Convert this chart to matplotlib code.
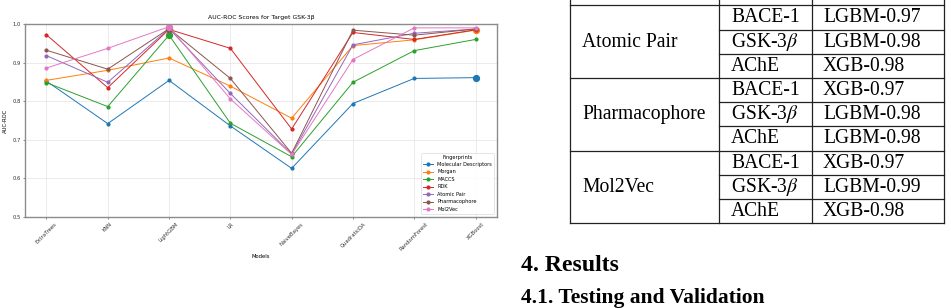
import matplotlib
matplotlib.use("Agg")
import matplotlib.pyplot as plt

plt.rcParams['mathtext.fontset'] = 'stix'

# chart data
models = ['ExtraTrees', 'KNN', 'LightGBM', 'LR', 'NaiveBayes', 'QuadraticDA', 'RandomForest', 'XGBoost']
fingerprints = ['Molecular Descriptors', 'Morgan', 'MACCS', 'RDK', 'Atomic Pair', 'Pharmacophore', 'Mol2Vec']
mol_desc = [0.852, 0.742, 0.854, 0.736, 0.626, 0.794, 0.859, 0.861]
morgan = [0.854, 0.880, 0.912, 0.839, 0.756, 0.944, 0.959, 0.984]
maccs = [0.848, 0.786, 0.971, 0.743, 0.656, 0.849, 0.931, 0.960]
rdk = [0.972, 0.835, 0.986, 0.937, 0.728, 0.978, 0.960, 0.985]
atomic_pair = [0.918, 0.849, 0.988, 0.820, 0.663, 0.946, 0.976, 0.987]
pharmacophore = [0.932, 0.883, 0.988, 0.859, 0.665, 0.984, 0.971, 0.987]
mol2vec = [0.886, 0.937, 0.993, 0.806, 0.662, 0.908, 0.990, 0.990]
series = [mol_desc, morgan, maccs, rdk, atomic_pair, pharmacophore, mol2vec]

# table data on the right
groups = ['Atomic Pair', 'Pharmacophore', 'Mol2Vec']
targets = ['BACE-1', r'GSK-3$\beta$', 'AChE']
best = [['LGBM-0.97', 'LGBM-0.98', 'XGB-0.98'],
        ['XGB-0.97', 'LGBM-0.98', 'LGBM-0.98'],
        ['XGB-0.97', 'LGBM-0.99', 'XGB-0.98']]

W, H = 951, 308
fig = plt.figure(figsize=(W / 100, H / 100), dpi=100)

# page overlay in pixel coords
page = fig.add_axes([0, 0, 1, 1])
page.set_xlim(0, W)
page.set_ylim(H, 0)
page.axis('off')
page.patch.set_alpha(0)

# ---- chart ----
ax = fig.add_axes([25 / W, 1 - 217 / H, 472 / W, 193 / H])
x = list(range(len(models)))
for name, vals in zip(fingerprints, series):
    line, = ax.plot(x, vals, marker='o', markersize=2, lw=0.7, label=name)
    i = vals.index(max(vals))
    ax.plot(x[i], vals[i], marker='o', markersize=4.2, color=line.get_color())

ax.set_ylim(0.5, 1.0)
ax.set_yticks([0.5, 0.6, 0.7, 0.8, 0.9, 1.0])
ax.set_xticks(x)
ax.set_xticklabels(models, rotation=45)
ax.tick_params(labelsize=3.8, length=1.5, width=0.4, pad=1.5, colors='#333333')
ax.grid(True, color='#e3e3e3', lw=0.5)
for s in ax.spines.values():
    s.set_color('#8c8c8c')
    s.set_linewidth(1.0)
ax.set_title('AUC-ROC Scores for Target GSK-3β', fontsize=4.4, pad=3.5)
ax.set_xlabel('Models', fontsize=3.8, labelpad=2)
ax.set_ylabel('AUC-ROC', fontsize=3.8, labelpad=3)
leg = ax.legend(title='Fingerprints', fontsize=3.6, title_fontsize=3.6, loc='lower right',
                borderaxespad=0.6, framealpha=0.9)
leg.get_frame().set_linewidth(0.4)

# ---- table ----
xs = [570, 719, 812, 944]
top = 5.3
rh = 24.2
nrows = 3 * len(groups)
bottom = top + nrows * rh
lk = dict(color='#222222', lw=0.9)
for xv in xs:
    page.plot([xv, xv], [0, bottom], **lk)
page.plot([xs[0], xs[-1]], [top, top], **lk)
tf = dict(fontsize=14.1, family='Liberation Serif', va='baseline', color='black')
for g, gname in enumerate(groups):
    g0 = top + 3 * g * rh
    page.plot([xs[0], xs[-1]], [g0 + 3 * rh, g0 + 3 * rh], **lk)
    page.text(582, g0 + 1.5 * rh + 5, gname, **tf)
    for r in range(3):
        y0 = g0 + r * rh
        if r > 0:
            page.plot([xs[1], xs[-1]], [y0, y0], **lk)
        page.text(731, y0 + 17.2, targets[r], **tf)
        page.text(823, y0 + 17.2, best[g][r], **tf)

page.text(521, 270.7, '4. Results', fontsize=17.1, family='Liberation Serif',
          weight='bold', va='baseline')
page.text(521, 303, '4.1. Testing and Validation', fontsize=15.5, family='Liberation Serif',
          weight='bold', va='baseline')

fig.savefig('out.png', dpi=100)
